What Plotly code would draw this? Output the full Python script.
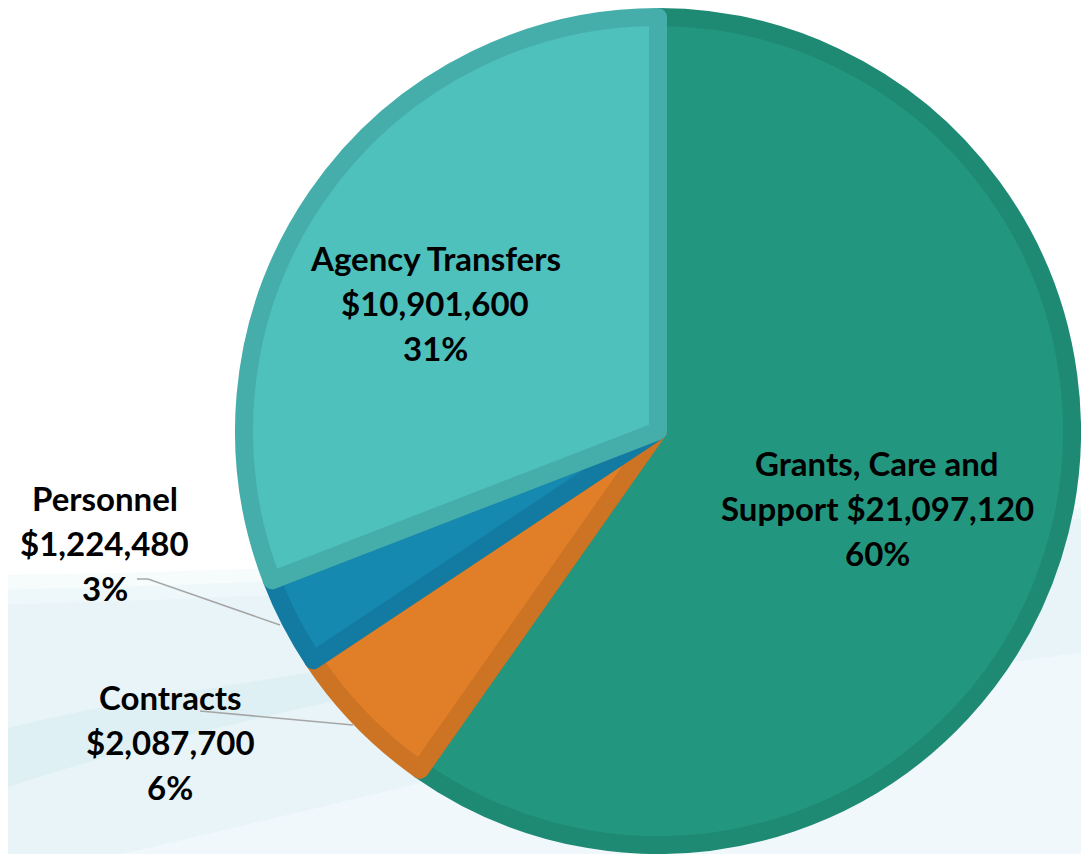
import plotly.graph_objects as go

# ---------------- data ----------------
categories = ["Grants, Care and Support", "Contracts", "Personnel", "Agency Transfers"]
amounts = [21097120, 2087700, 1224480, 10901600]
percent_labels = ["60%", "6%", "3%", "31%"]
# how the category name is broken into lines in the label
name_lines = [["Grants, Care and", "Support"], ["Contracts"], ["Personnel"], ["Agency Transfers"]]

# ---------------- style ----------------
fill_colors = ["#23967f", "#e07f27", "#1589b0", "#4fc1bd"]
edge_colors = ["#1e8a74", "#cc7324", "#137ba1", "#46aeaa"]

W, H = 1089, 854
OFF = 8                          # page body margin offset
CX, CY, R = 658, 431, 423        # screen-pixel centre and outer radius of pie
EDGE = 18                        # border stroke width (half of it sits outside the fill)

def px(x):
    return (x - OFF) / W

def py(y):
    return 1 - (y - OFF) / H

r_fill = R - EDGE / 2
fig = go.Figure()
fig.add_trace(go.Pie(
    labels=categories,
    values=amounts,
    sort=False,
    direction="clockwise",
    rotation=0,
    textinfo="none",
    hoverinfo="skip",
    showlegend=False,
    marker=dict(colors=fill_colors, line=dict(color=edge_colors, width=EDGE)),
    domain=dict(x=[px(CX - r_fill), px(CX + r_fill)],
                y=[py(CY + r_fill), py(CY - r_fill)]),
))

# label placement (screen-pixel centres of each label block)
label_centers = [(877, 508), (170, 742), (105, 543), (435, 303)]
LINE_GAP = 45
font = dict(family="Lato", size=33, color="#000000")

annotations = []
for i, cat in enumerate(categories):
    lines = list(name_lines[i])
    money = "${:,}".format(amounts[i])
    if len(lines) > 1:
        lines[-1] = lines[-1] + " " + money
    else:
        lines.append(money)
    lines.append(percent_labels[i])
    cx, cy = label_centers[i]
    n = len(lines)
    for j, ln in enumerate(lines):
        yy = cy + (j - (n - 1) / 2) * LINE_GAP
        annotations.append(dict(
            x=px(cx), y=py(yy), xref="paper", yref="paper",
            text="<b>" + ln + "</b>", showarrow=False,
            xanchor="center", yanchor="middle", font=font,
        ))

shapes = []
# soft background swooshes (layered for a gradual edge)
for top_left, top_mid, top_right, op in [(575, 570, 495, 0.35), (590, 582, 505, 0.5), (605, 595, 515, 0.8)]:
    shapes.append(dict(type="path", xref="paper", yref="paper", layer="below",
                       path="M {x0},{a} C {b},{c} {d},{e} {x1},{f} L {x1},{y1} L {x0},{y1} Z".format(
                           x0=px(0), x1=px(1100), y1=py(870),
                           a=py(top_left), b=px(350), c=py(top_mid), d=px(750), e=py(top_mid - 20),
                           f=py(top_right)),
                       fillcolor="#e6f3f7", opacity=op, line=dict(width=0)))
shapes.append(dict(type="path", xref="paper", yref="paper", layer="below",
                   path="M {x0},{a} C {b},{c} {d},{e} {g},{h} C {i},{j} {k},{l} {x0},{m} Z".format(
                       x0=px(0),
                       a=py(730), b=px(200), c=py(680), d=px(500), e=py(650), g=px(750), h=py(610),
                       i=px(500), j=py(670), k=px(200), l=py(720), m=py(790)),
                   fillcolor="#d6ecf1", opacity=0.55, line=dict(width=0)))
shapes.append(dict(type="path", xref="paper", yref="paper", layer="below",
                   path="M {x0},{a} C {b},{c} {d},{e} {x1},{f} L {x1},{y1} L {x0},{y1} Z".format(
                       x0=px(0), x1=px(1100), y1=py(870),
                       a=py(880), b=px(300), c=py(820), d=px(700), e=py(700), f=py(650)),
                   fillcolor="#f3f9fc", opacity=0.75, line=dict(width=0)))

# leader lines for the outside labels
shapes.append(dict(type="path", xref="paper", yref="paper",
                   path="M {a},{b} L {c},{d} L {e},{f}".format(
                       a=px(137), b=py(579), c=px(148), d=py(579), e=px(280), f=py(625)),
                   line=dict(color="#a6a6a6", width=1.5)))
shapes.append(dict(type="path", xref="paper", yref="paper",
                   path="M {a},{b} L {c},{d}".format(
                       a=px(200), b=py(711), c=px(353), d=py(725)),
                   line=dict(color="#a6a6a6", width=1.5)))

fig.update_layout(
    width=W, height=H,
    margin=dict(l=0, r=0, t=0, b=0),
    paper_bgcolor="#ffffff",
    plot_bgcolor="#ffffff",
    annotations=annotations,
    shapes=shapes,
)

fig.write_html("out.html")
